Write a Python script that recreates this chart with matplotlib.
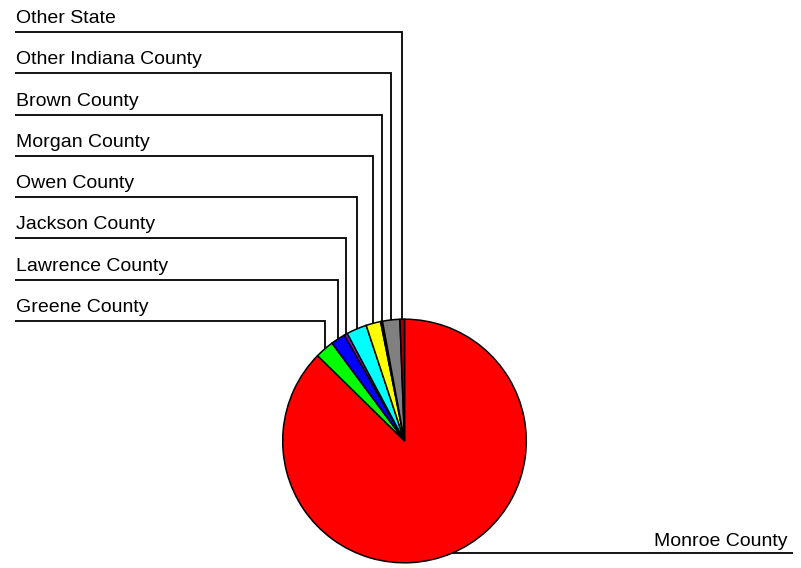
import matplotlib
matplotlib.use("Agg")
import matplotlib.pyplot as plt
import numpy as np

# ---- data (share of total) ----
categories = ["Monroe County", "Greene County", "Lawrence County", "Jackson County",
              "Owen County", "Morgan County", "Brown County",
              "Other Indiana County", "Other State"]
values = [87.5, 2.5, 1.95, 0.42, 2.7, 1.95, 0.25, 2.3, 0.6]
colors = ["#FF0000", "#00FF00", "#0000FF", "#B000D0", "#00FFFF", "#FFFF00",
          "#202020", "#808080", "#A00000"]

W, H = 801, 568
fig = plt.figure(figsize=(W / 100, H / 100), dpi=100)
ax = fig.add_axes([0, 0, 1, 1])
ax.set_xlim(0, W)
ax.set_ylim(0, H)
ax.axis("off")

cx, cy, r = 404.5, H - 441, 121.8
wedges, _ = ax.pie(values, colors=colors, startangle=90, counterclock=False,
                   center=(cx, cy), radius=r,
                   wedgeprops=dict(edgecolor="black", linewidth=1.1))
ax.set_xlim(0, W)
ax.set_ylim(0, H)
ax.set_aspect("equal")

font = dict(family=["Liberation Sans", "DejaVu Sans"], fontsize=14.0, color="black")
lw = 1.3

# Monroe label (bottom right)
w0 = wedges[0]
mid = np.deg2rad((w0.theta1 + w0.theta2) / 2)
px, py = cx + r * np.cos(mid), cy + r * np.sin(mid)
ax.plot([px, 793], [py, py], color="black", lw=lw, solid_capstyle="butt")
ax.text(788, py + 7, categories[0], ha="right", va="baseline", **font)

# other labels stacked on the left
line_top, line_bottom = H - 32, H - 321
n = len(categories) - 1
for i in range(1, len(categories)):
    w = wedges[i]
    mid = np.deg2rad((w.theta1 + w.theta2) / 2)
    px, py = cx + r * np.cos(mid), cy + r * np.sin(mid)
    ly = line_bottom + (i - 1) * (line_top - line_bottom) / (n - 1)
    ax.plot([15, px, px], [ly, ly, py], color="black", lw=lw,
            solid_joinstyle="miter", solid_capstyle="butt")
    ax.text(16, ly + 9, categories[i], ha="left", va="baseline", **font)

fig.savefig("out.png", dpi=100, facecolor="white")
